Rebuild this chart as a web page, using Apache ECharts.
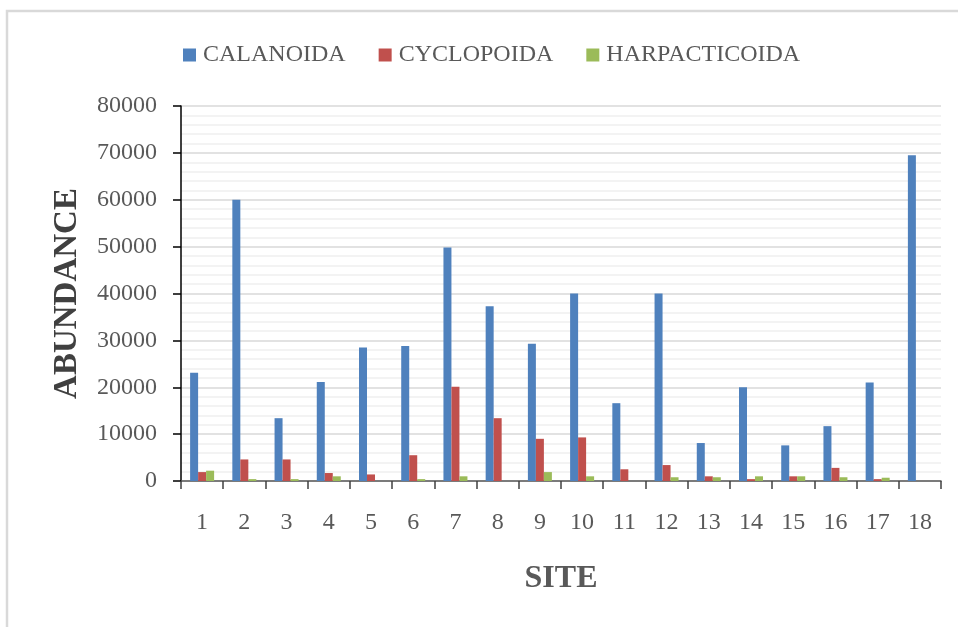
<!DOCTYPE html>
<html>
<head>
<meta charset="utf-8">
<script src="https://cdn.jsdelivr.net/npm/echarts@6/dist/echarts.min.js"></script>
<style>
  html, body { margin: 0; padding: 0; background: #ffffff; }
  #chart { width: 958px; height: 627px; }
</style>
</head>
<body>
<div id="chart"></div>
<script>
// Copepod abundance per sampling site
const sites = ['1','2','3','4','5','6','7','8','9','10','11','12','13','14','15','16','17','18'];
const calanoida     = [23100, 60000, 13400, 21100, 28500, 28800, 49800, 37300, 29300, 40000, 16600, 40000, 8100, 20000, 7600, 11700, 21000, 69500];
const cyclopoida    = [1900, 4600, 4600, 1700, 1400, 5500, 20100, 13400, 9000, 9300, 2500, 3400, 1000, 400, 1000, 2800, 400, 0];
const harpacticoida = [2200, 400, 400, 1000, 0, 400, 1000, 0, 1900, 1000, 0, 800, 800, 1000, 1000, 800, 700, 0];
const seriesNames = ['CALANOIDA', 'CYCLOPOIDA', 'HARPACTICOIDA'];
const seriesColors = ['#4F81BD', '#C0504D', '#9BBB59'];

const serif = '"Liberation Serif", "Times New Roman", serif';
const chart = echarts.init(document.getElementById('chart'));

const makeBar = (name, data, color) => ({
  name: name,
  type: 'bar',
  data: data,
  barWidth: 8,
  barGap: '0%',
  itemStyle: { color: color },
  emphasis: { disabled: true }
});

chart.setOption({
  animation: false,
  color: seriesColors,
  graphic: [{
    type: 'rect',
    shape: { x: 7, y: 11, width: 1000, height: 700 },
    style: { fill: 'none', stroke: '#d9d9d9', lineWidth: 2.5 },
    silent: true
  }],
  legend: {
    left: 178,
    top: 38,
    itemWidth: 13,
    itemHeight: 13,
    itemGap: 33,
    icon: 'rect',
    textStyle: { fontFamily: serif, fontSize: 24, color: '#595959', padding: [0, 0, 0, 2] },
    data: seriesNames
  },
  grid: { left: 181, right: 17, top: 106, bottom: 146, containLabel: false },
  xAxis: {
    type: 'category',
    data: sites,
    name: 'SITE',
    nameLocation: 'middle',
    nameGap: 82,
    nameTextStyle: { fontFamily: serif, fontSize: 32, fontWeight: 'bold', color: '#595959' },
    axisLine: { lineStyle: { color: '#595959', width: 1.5 } },
    axisTick: { show: true, length: 8, lineStyle: { color: '#404040', width: 1.5 } },
    axisLabel: { fontFamily: serif, fontSize: 24, color: '#595959', margin: 30 }
  },
  yAxis: {
    type: 'value',
    min: 0,
    max: 80000,
    interval: 10000,
    name: 'ABUNDANCE',
    nameLocation: 'middle',
    nameGap: 97,
    nameRotate: 90,
    nameTextStyle: { fontFamily: serif, fontSize: 33, fontWeight: 'bold', color: '#404040' },
    axisLine: { show: true, lineStyle: { color: '#000000', width: 1.5 } },
    axisTick: { show: true, length: 8, lineStyle: { color: '#000000', width: 1.5 } },
    axisLabel: {
      fontFamily: serif, fontSize: 24, color: '#595959', margin: 24,
      formatter: (v) => String(v)
    },
    splitLine: { show: true, lineStyle: { color: '#d9d9d9', width: 1.5 } },
    minorTick: { show: false, splitNumber: 5 },
    minorSplitLine: { show: true, lineStyle: { color: '#f0f0f0', width: 1.5 } }
  },
  series: [
    makeBar(seriesNames[0], calanoida, seriesColors[0]),
    makeBar(seriesNames[1], cyclopoida, seriesColors[1]),
    makeBar(seriesNames[2], harpacticoida, seriesColors[2])
  ]
});
</script>
</body>
</html>
